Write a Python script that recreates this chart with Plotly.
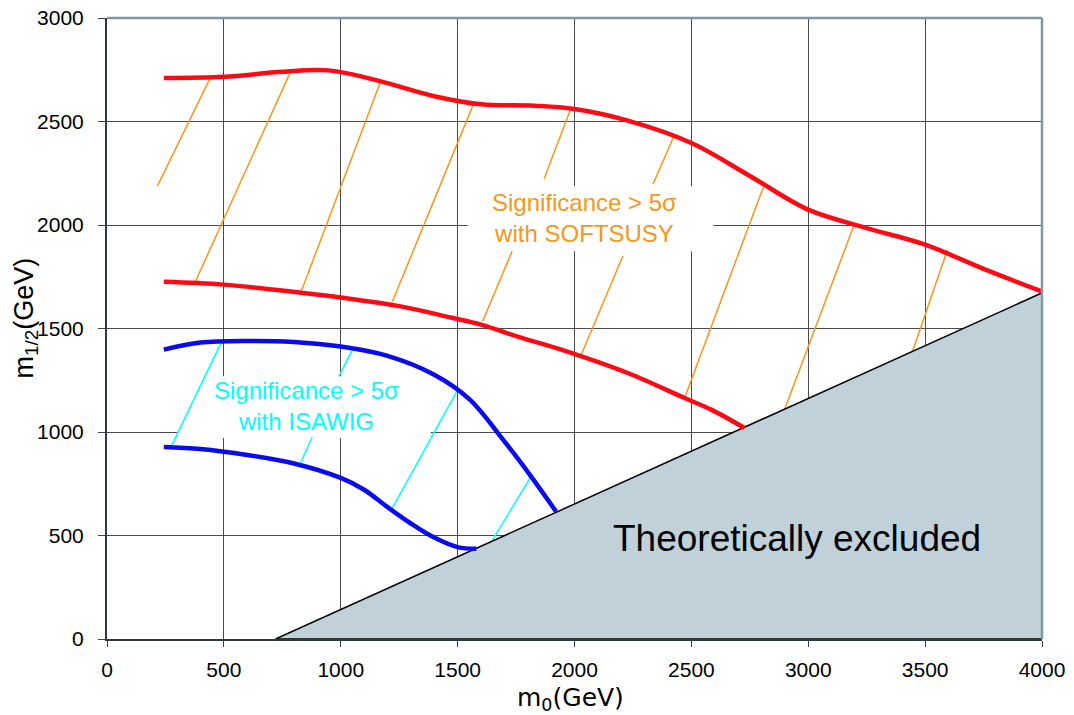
import plotly.graph_objects as go

# ---------------- data ----------------
x_ticks = [0, 500, 1000, 1500, 2000, 2500, 3000, 3500, 4000]
y_ticks = [0, 500, 1000, 1500, 2000, 2500, 3000]

# SOFTSUSY 5-sigma band (red)
soft_upper_x = [243, 500, 750, 950, 1171, 1400, 1600, 1828, 2000, 2228, 2500, 2750, 3000, 3250, 3500, 3750, 4000]
soft_upper_y = [2710, 2716, 2740, 2747, 2694, 2622, 2583, 2576, 2560, 2504, 2396, 2237, 2074, 1985, 1905, 1788, 1679]
soft_lower_x = [243, 500, 829, 1000, 1257, 1471, 1600, 1771, 1943, 2228, 2471, 2585, 2728]
soft_lower_y = [1726, 1712, 1673, 1650, 1607, 1553, 1519, 1456, 1398, 1285, 1164, 1108, 1019]

# ISAWIG 5-sigma band (blue)
isa_upper_x = [243, 400, 600, 800, 1000, 1200, 1400, 1550, 1700, 1810, 1921]
isa_upper_y = [1398, 1432, 1440, 1435, 1413, 1368, 1277, 1159, 955, 792, 616]
isa_lower_x = [243, 400, 600, 800, 1000, 1100, 1200, 1300, 1400, 1500, 1580]
isa_lower_y = [928, 918, 889, 848, 778, 721, 637, 558, 490, 444, 436]

# theoretically excluded region
excl_x = [721, 4000, 4000, 721]
excl_y = [0, 1672, 0, 0]

# hatch segments (start x, start y, end x, end y)
orange_x0 = [216, 378, 829, 1221, 1607, 1870, 2029, 2336, 2471, 2894, 3443]
orange_y0 = [2189, 1726, 1673, 1630, 1535, 2223, 1373, 2197, 1164, 1094, 1379]
orange_x1 = [443, 786, 1171, 1570, 1733, 1985, 2207, 2426, 2811, 3196, 3596]
orange_y1 = [2713, 2742, 2694, 2590, 1873, 2564, 1850, 2431, 2192, 2000, 1882]

cyan_x0 = [274, 824, 992, 1217, 1642]
cyan_y0 = [928, 842, 1269, 625, 464]
cyan_x1 = [491, 878, 1052, 1500, 1814]
cyan_y1 = [1438, 976, 1402, 1204, 786]

label_soft = "Significance > 5σ<br>with SOFTSUSY"
label_isa = "Significance > 5σ<br>with ISAWIG"
label_excl = "Theoretically excluded"
x_title = "m<sub>0</sub>(GeV)"
y_title = "m<sub>1/2</sub>(GeV)"


def segments(x0, y0, x1, y1):
    xs, ys = [], []
    for a, b, c, d in zip(x0, y0, x1, y1):
        xs += [a, c, None]
        ys += [b, d, None]
    return xs, ys


FONT = "Liberation Sans, Arial, sans-serif"

fig = go.Figure()

ox, oy = segments(orange_x0, orange_y0, orange_x1, orange_y1)
fig.add_trace(go.Scatter(x=ox, y=oy, mode="lines",
                         line=dict(color="#F7961A", width=1.5), hoverinfo="skip"))
cx, cy = segments(cyan_x0, cyan_y0, cyan_x1, cyan_y1)
fig.add_trace(go.Scatter(x=cx, y=cy, mode="lines",
                         line=dict(color="#00FFFF", width=1.5), hoverinfo="skip"))

fig.add_trace(go.Scatter(x=excl_x, y=excl_y, mode="lines", fill="toself",
                         fillcolor="#C1D1D9", line=dict(color="black", width=1.5),
                         hoverinfo="skip"))

for xs, ys, col in [(soft_upper_x, soft_upper_y, "#FF0A14"),
                    (soft_lower_x, soft_lower_y, "#FF0A14"),
                    (isa_upper_x, isa_upper_y, "#0A0AF0"),
                    (isa_lower_x, isa_lower_y, "#0A0AF0")]:
    fig.add_trace(go.Scatter(x=xs, y=ys, mode="lines",
                             line=dict(color=col, width=4.5, shape="spline", smoothing=1.0),
                             hoverinfo="skip"))

# white label boxes hiding grid lines (between grid and traces)
fig.add_shape(type="rect", xref="x", yref="y", x0=1543, x1=2594, y0=1873, y1=2187,
              fillcolor="white", line=dict(width=0), layer="between")
fig.add_shape(type="rect", xref="x", yref="y", x0=300, x1=1385, y0=971, y1=1269,
              fillcolor="white", line=dict(width=0), layer="between")

# top / right frame
fig.add_shape(type="line", xref="paper", yref="paper", x0=0, x1=1, y0=1, y1=1,
              line=dict(color="#7F98A1", width=2.5), layer="above")
fig.add_shape(type="line", xref="paper", yref="paper", x0=1, x1=1, y0=0, y1=1,
              line=dict(color="#7F98A1", width=2.5), layer="above")

fig.add_annotation(x=2042, y=2035, xref="x", yref="y", text=label_soft, showarrow=False,
                   font=dict(family=FONT, size=24, color="#F7961A"))
fig.add_annotation(x=854, y=1128, xref="x", yref="y", text=label_isa, showarrow=False,
                   font=dict(family=FONT, size=24, color="#00FFFF"))
fig.add_annotation(x=2951, y=485, xref="x", yref="y", text=label_excl, showarrow=False,
                   font=dict(family=FONT, size=37, color="black"))

# axis titles
fig.add_annotation(x=0.496, y=-0.097, xref="paper", yref="paper", text=x_title,
                   showarrow=False, xanchor="center", yanchor="middle",
                   font=dict(family="DejaVu Sans, Verdana, sans-serif", size=25, color="black"))
fig.add_annotation(x=-0.087, y=0.517, xref="paper", yref="paper", text=y_title,
                   showarrow=False, xanchor="center", yanchor="middle", textangle=-90,
                   font=dict(family=FONT, size=27, color="black"))

fig.update_layout(
    width=1074, height=715,
    margin=dict(l=107, r=32, t=18, b=76, autoexpand=False),
    paper_bgcolor="white", plot_bgcolor="white",
    showlegend=False,
    font=dict(family=FONT, color="black"),
)
fig.update_xaxes(range=[0, 4000], tickvals=x_ticks, ticktext=[str(v) for v in x_ticks],
                 showgrid=True, gridcolor="#4A4A4A", gridwidth=1, zeroline=False,
                 showline=True, linecolor="#2F3A40", linewidth=2, automargin=False,
                 ticks="outside", ticklen=6, tickcolor="#444", tickfont=dict(size=21),
                 ticklabelstandoff=5)
fig.update_yaxes(range=[0, 3000], tickvals=y_ticks, ticktext=[str(v) for v in y_ticks],
                 showgrid=True, gridcolor="#4A4A4A", gridwidth=1, zeroline=False,
                 showline=True, linecolor="#2F3A40", linewidth=2, automargin=False,
                 ticks="outside", ticklen=7, tickcolor="#444", tickfont=dict(size=21),
                 ticklabelstandoff=10)

fig.write_html("out.html", config={"displayModeBar": False},
               post_script="document.body.style.margin='0';")
